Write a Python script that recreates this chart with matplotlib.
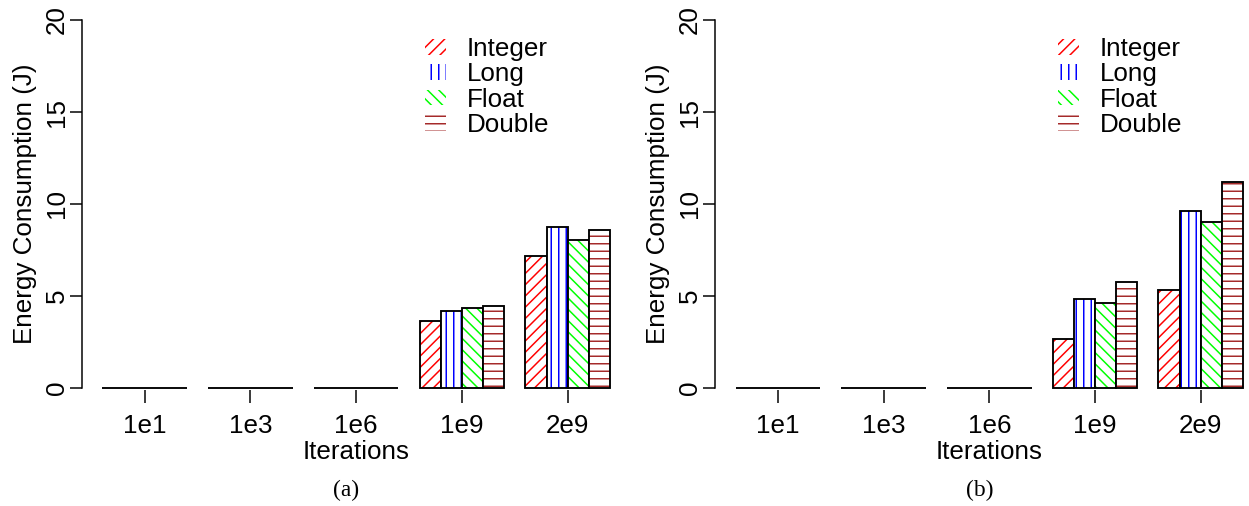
import numpy as np
import matplotlib
matplotlib.use("Agg")
import matplotlib.pyplot as plt
from matplotlib.patches import Patch

# data (Joules)
iterations = ["1e1", "1e3", "1e6", "1e9", "2e9"]
types = ["Integer", "Long", "Float", "Double"]

energy_a = {
    "Integer": [0.002, 0.004, 0.01, 3.62, 7.16],
    "Long":    [0.002, 0.004, 0.01, 4.18, 8.77],
    "Float":   [0.002, 0.004, 0.01, 4.34, 8.06],
    "Double":  [0.002, 0.004, 0.01, 4.47, 8.56],
}
energy_b = {
    "Integer": [0.002, 0.004, 0.01, 2.66, 5.33],
    "Long":    [0.002, 0.004, 0.01, 4.82, 9.62],
    "Float":   [0.002, 0.004, 0.01, 4.64, 9.02],
    "Double":  [0.002, 0.004, 0.01, 5.78, 11.21],
}

colors = ["#FF0000", "#0000FF", "#00FF00", "#A52A2A"]
hatches = ["////", "|||", "\\\\\\\\", "---"]

DPI = 135
plt.rcParams["font.family"] = ["Liberation Sans", "DejaVu Sans"]
plt.rcParams["hatch.linewidth"] = 0.8
FS = 13.9

fig = plt.figure(figsize=(1249 / DPI, 506 / DPI), dpi=DPI)

W, H = 1249, 506
ax_w = 548.2 / W
ax_b = (H - 402.7) / H
ax_h = 397.4 / H


def panel(left_px, data, tag):
    ax = fig.add_axes([left_px / W, ax_b, ax_w, ax_h])
    n = len(types)
    for j, t in enumerate(types):
        xs = 1 + np.arange(len(iterations)) * (n + 1) + j
        ax.bar(xs, data[t], width=1, align="edge", facecolor="white",
               edgecolor=colors[j], hatch=hatches[j], linewidth=0)
        ax.bar(xs, data[t], width=1, align="edge", fill=False,
               edgecolor="black", linewidth=1.0)
    ax.set_xlim(0.04, 25.96)
    ax.set_ylim(-0.8, 20.8)
    for s in ["top", "right", "bottom"]:
        ax.spines[s].set_visible(False)
    ax.spines["left"].set_bounds(0, 20)
    ax.spines["left"].set_linewidth(0.8)
    ax.set_yticks([0, 5, 10, 15, 20])
    ax.set_yticklabels(["0", "5", "10", "15", "20"], rotation=90,
                       va="center", fontsize=FS)
    ax.tick_params(axis="y", length=6.5, width=0.8, pad=0.5)
    ax.set_xticks(3 + np.arange(len(iterations)) * (n + 1))
    ax.set_xticklabels(iterations, fontsize=FS)
    ax.tick_params(axis="x", direction="in", length=7.2, width=0.8, pad=6)
    ax.set_xlabel("Iterations", fontsize=FS)
    ax.xaxis.set_label_coords(0.5, -0.093)
    ax.set_ylabel("Energy Consumption (J)", fontsize=FS)
    ax.yaxis.set_label_coords(-0.083, 0.5)

    handles = [Patch(facecolor="white", edgecolor=colors[j], hatch=hatches[j],
                     linewidth=0) for j in range(n)]
    ax.legend(handles, types, loc="upper left", bbox_to_anchor=(0.625, 0.92),
              frameon=False, fontsize=FS, handlelength=0.8, handleheight=0.55,
              handletextpad=0.8, borderpad=0, borderaxespad=0, labelspacing=0.05)

    fig.text((left_px + 548.2 / 2 - 10) / W, 1 - 490 / H, tag,
             family=["Liberation Serif", "DejaVu Serif"], fontsize=12.5,
             ha="center", va="center")
    return ax


panel(82.1, energy_a, "(a)")
panel(715.2, energy_b, "(b)")

fig.savefig("out.png", dpi=DPI)
